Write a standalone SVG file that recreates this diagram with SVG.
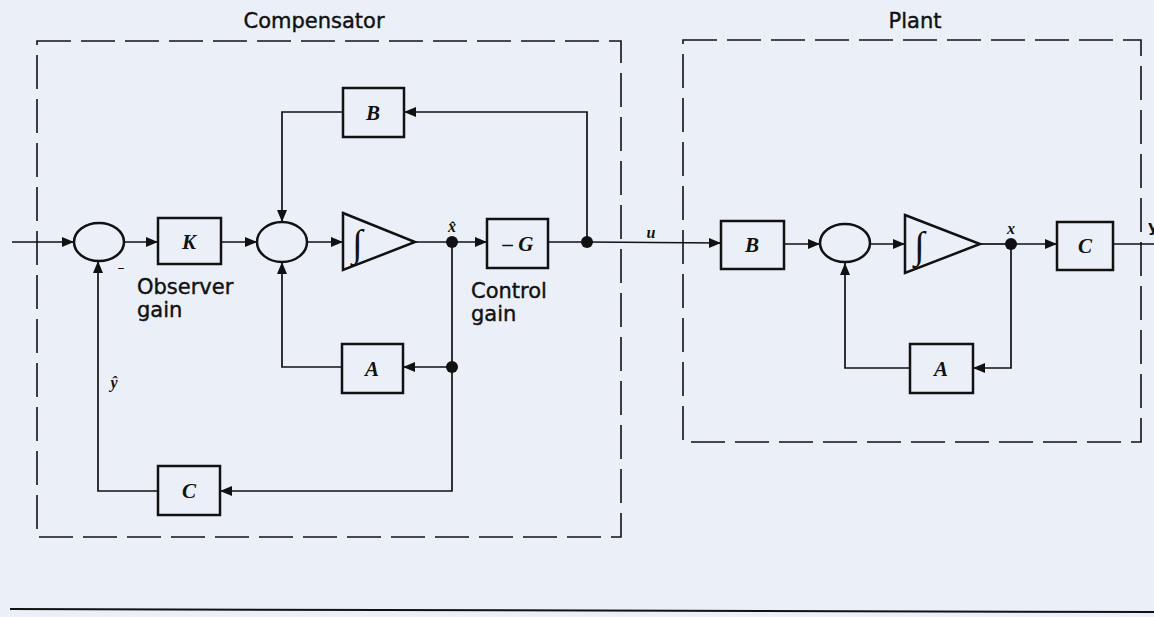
<svg xmlns="http://www.w3.org/2000/svg" width="1154" height="617" viewBox="0 0 1154 617">
<defs>
<style>
.bg{fill:#ebf0f8}
.box{fill:none;stroke:#111;stroke-width:2.5}
.sum{fill:none;stroke:#111;stroke-width:2.5}
.wire{fill:none;stroke:#111;stroke-width:1.7}
.dash{fill:none;stroke:#111;stroke-width:1.6;stroke-dasharray:34 10}
.dot{fill:#111}
.sym{font-family:"Liberation Serif",serif;font-style:italic;font-weight:bold;font-size:21px;fill:#111;text-anchor:middle}
.lbl{font-family:"DejaVu Sans",sans-serif;font-size:21px;fill:#111;stroke:#111;stroke-width:0.4}
.ttl{font-family:"DejaVu Sans",sans-serif;font-size:21px;fill:#111;stroke:#111;stroke-width:0.4;text-anchor:middle}
.int{font-family:"Liberation Serif",serif;font-size:38px;fill:#111}
.small{font-family:"Liberation Serif",serif;font-style:italic;font-weight:bold;font-size:16px;fill:#111;text-anchor:middle}
</style>
<marker id="arr" markerUnits="userSpaceOnUse" markerWidth="14" markerHeight="12" refX="12" refY="6" orient="auto">
<path d="M0,1 L12,6 L0,11 z" fill="#111"/>
</marker>
</defs>
<rect class="bg" x="0" y="0" width="1154" height="617"/>

<g id="compensator-frame">
<path class="dash" d="M37,41 H621 V537 H37 Z"/>
<text class="ttl" x="314" y="28">Compensator</text>
</g>
<g id="plant-frame">
<path class="dash" d="M683,40 H1141 V442 H683 Z"/>
<text class="ttl" x="915" y="28">Plant</text>
</g>

<g id="connectors">
<path class="wire" marker-end="url(#arr)" d="M12,242 H74"/>
<path class="wire" marker-end="url(#arr)" d="M125,242 H158"/>
<path class="wire" marker-end="url(#arr)" d="M221,242 H257"/>
<path class="wire" marker-end="url(#arr)" d="M307,242 H343"/>
<path class="wire" d="M415,242 H452"/>
<path class="wire" marker-end="url(#arr)" d="M452,242 H487"/>
<path class="wire" d="M548,242 H587"/>
<path class="wire" marker-end="url(#arr)" d="M587,242 L721,243"/>
<path class="wire" marker-end="url(#arr)" d="M587,242 V112 H404"/>
<path class="wire" marker-end="url(#arr)" d="M343,112 H282 V222"/>
<path class="wire" marker-end="url(#arr)" d="M452,242 V491 H220"/>
<path class="wire" marker-end="url(#arr)" d="M452,367 H403"/>
<path class="wire" marker-end="url(#arr)" d="M342,367 H282 V262"/>
<path class="wire" marker-end="url(#arr)" d="M158,491 H98 V261"/>
<path class="wire" marker-end="url(#arr)" d="M784,244 H820"/>
<path class="wire" marker-end="url(#arr)" d="M870,244 H905"/>
<path class="wire" d="M980,244 H1011"/>
<path class="wire" marker-end="url(#arr)" d="M1011,244 H1057"/>
<path class="wire" d="M1113,244 H1154"/>
<path class="wire" marker-end="url(#arr)" d="M1011,244 V368 H973"/>
<path class="wire" marker-end="url(#arr)" d="M910,368 H845 V263"/>
<circle class="dot" cx="452" cy="242" r="6"/>
<circle class="dot" cx="452" cy="367" r="6"/>
<circle class="dot" cx="587" cy="242" r="6"/>
<circle class="dot" cx="1011" cy="244" r="6"/>
</g>

<g id="sum1"><ellipse class="sum" cx="99" cy="242" rx="25" ry="19"/><text x="121" y="272" font-family="DejaVu Sans,sans-serif" font-size="14" fill="#111" text-anchor="middle">–</text></g>
<g id="K"><rect class="box" x="158" y="218" width="63" height="46"/><text class="sym" x="189" y="249">K</text></g>
<g id="observer-gain"><text class="lbl" x="137" y="294">Observer</text><text class="lbl" x="137" y="317">gain</text></g>
<g id="sum2"><ellipse class="sum" cx="282" cy="242" rx="25" ry="20"/></g>
<g id="int1"><path class="box" d="M343,213 L415,242 L343,270 Z"/><text class="int" x="352" y="256">∫</text></g>
<g id="xhat-label"><text class="small" x="452" y="232">x̂</text></g>
<g id="minusG"><rect class="box" x="487" y="219" width="61" height="49"/><text class="sym" x="518" y="251" font-weight="normal">– G</text></g>
<g id="control-gain"><text class="lbl" x="471" y="298">Control</text><text class="lbl" x="471" y="321">gain</text></g>
<g id="B1"><rect class="box" x="343" y="88" width="61" height="49"/><text class="sym" x="373" y="120">B</text></g>
<g id="A1"><rect class="box" x="342" y="344" width="61" height="49"/><text class="sym" x="372" y="376">A</text></g>
<g id="C1"><rect class="box" x="158" y="466" width="62" height="49"/><text class="sym" x="189" y="498">C</text></g>
<g id="yhat-label"><text class="small" x="114" y="388">ŷ</text></g>
<g id="u-label"><text class="small" x="651" y="238">u</text></g>

<g id="B2"><rect class="box" x="721" y="221" width="63" height="48"/><text class="sym" x="752" y="252">B</text></g>
<g id="sum3"><ellipse class="sum" cx="845" cy="243" rx="25" ry="19"/></g>
<g id="int2"><path class="box" d="M905,215 L980,244 L905,273 Z"/><text class="int" x="914" y="258">∫</text></g>
<g id="x-label"><text class="small" x="1011" y="234">x</text></g>
<g id="C2"><rect class="box" x="1057" y="222" width="56" height="48"/><text class="sym" x="1085" y="253">C</text></g>
<g id="A2"><rect class="box" x="910" y="344" width="63" height="49"/><text class="sym" x="941" y="376">A</text></g>
<g id="y-label"><text x="1148" y="232" font-family="DejaVu Sans,sans-serif" font-weight="bold" font-size="16" fill="#111">y</text></g>

<g id="rule"><path d="M10,609 L1154,612" stroke="#111" stroke-width="2" fill="none"/></g>
</svg>
